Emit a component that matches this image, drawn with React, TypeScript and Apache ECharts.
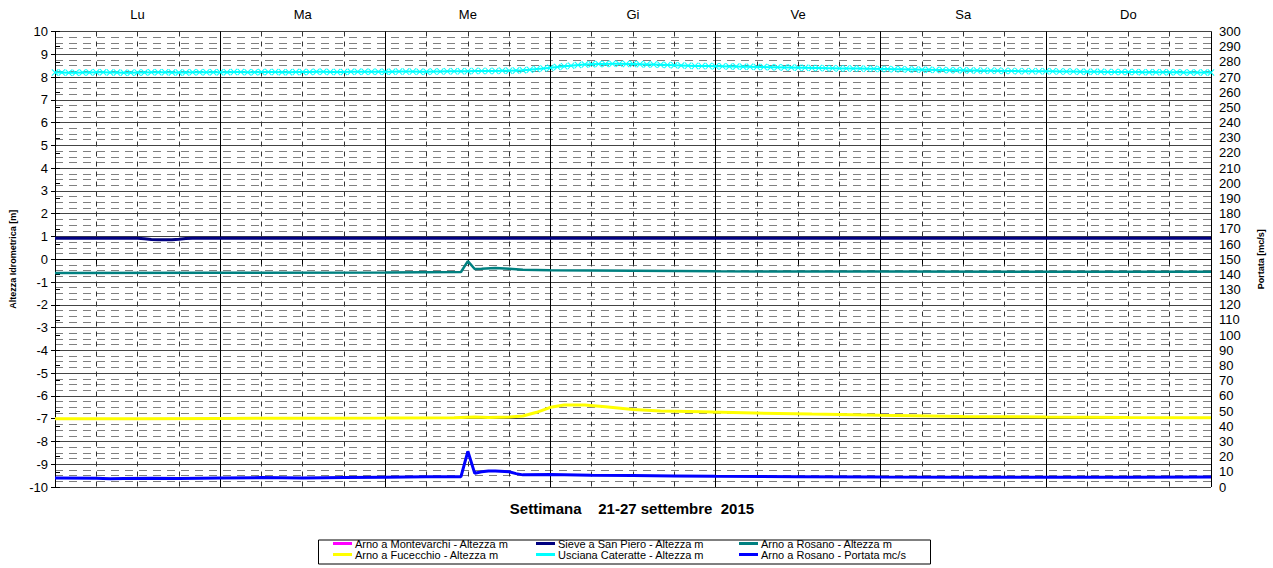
import React, { useEffect, useRef } from 'react';
import * as echarts from 'echarts';

const FONT = '"Liberation Sans", Arial, Helvetica, sans-serif';

const DAYS = ['Lu', 'Ma', 'Me', 'Gi', 'Ve', 'Sa', 'Do'];
const TITLE = 'Settimana\u00a0\u00a0\u00a0\u00a021-27 settembre\u00a0\u00a02015';
const LEFT_NAME = 'Altezza Idrometrica [m]';
const RIGHT_NAME = 'Portata [mc/s]';

const NAMES = [
  'Arno a Montevarchi - Altezza m',
  'Sieve a San Piero - Altezza m',
  'Arno a Rosano - Altezza m',
  'Arno a Fucecchio - Altezza m',
  'Usciana Cateratte - Altezza m',
  'Arno a Rosano - Portata mc/s',
];
const COLORS = ['#FF00FF', '#000080', '#008080', '#FFFF00', '#00FFFF', '#0000FF'];

// [hour since Mon 00:00, value]
const MONTEVARCHI: [number, number][] = [];

const SIEVE: [number, number][] = [
  [0, 0.92], [12, 0.92], [13, 0.9], [14, 0.87], [15, 0.86], [17, 0.86], [18, 0.88], [19, 0.91], [20, 0.92],
  [48, 0.92], [72, 0.92], [96, 0.92], [120, 0.92], [144, 0.92], [168, 0.92],
];

const ROSANO_H: [number, number][] = [
  [0, -0.6], [24, -0.59], [48, -0.58], [59, -0.56], [60, -0.08], [61, -0.43], [62, -0.42], [64, -0.38],
  [66, -0.42], [68, -0.46], [72, -0.48], [84, -0.5], [96, -0.53], [120, -0.54], [144, -0.55], [168, -0.55],
];

const FUCECCHIO: [number, number][] = [
  [0, -7.0], [12, -7.0], [24, -6.99], [36, -6.98], [48, -6.97], [58, -6.96], [61, -6.93], [63, -6.95],
  [66, -6.93], [68, -6.88], [70, -6.72], [72, -6.5], [74, -6.4], [77, -6.4], [80, -6.48], [84, -6.6],
  [88, -6.66], [94, -6.7], [100, -6.74], [110, -6.8], [120, -6.85], [132, -6.9], [144, -6.93],
  [156, -6.95], [168, -6.96],
];

// hourly values, hour 0 .. 168
const USCIANA: number[] = [
  8.20, 8.20, 8.19, 8.19, 8.20, 8.20, 8.21, 8.21, 8.20, 8.20, 8.19, 8.19, 8.20, 8.20, 8.21, 8.21, 8.21, 8.20, 8.20, 8.20, 8.21, 8.21, 8.21, 8.21,
  8.21, 8.21, 8.22, 8.22, 8.21, 8.21, 8.22, 8.22, 8.22, 8.21, 8.21, 8.22, 8.22, 8.22, 8.23, 8.23, 8.22, 8.22, 8.22, 8.23, 8.23, 8.23, 8.23, 8.23,
  8.23, 8.23, 8.24, 8.24, 8.24, 8.23, 8.23, 8.24, 8.24, 8.25, 8.25, 8.25, 8.26, 8.27, 8.27, 8.27, 8.27, 8.28, 8.28, 8.29, 8.30, 8.32, 8.35, 8.38,
  8.41, 8.44, 8.47, 8.50, 8.53, 8.55, 8.56, 8.57, 8.57, 8.58, 8.58, 8.57, 8.57, 8.56, 8.55, 8.55, 8.54, 8.53, 8.52, 8.51, 8.50, 8.49, 8.48, 8.48,
  8.47, 8.47, 8.46, 8.46, 8.45, 8.45, 8.44, 8.44, 8.43, 8.43, 8.42, 8.42, 8.41, 8.41, 8.40, 8.40, 8.39, 8.39, 8.38, 8.38, 8.37, 8.37, 8.36, 8.36,
  8.35, 8.35, 8.34, 8.34, 8.33, 8.33, 8.32, 8.32, 8.31, 8.31, 8.30, 8.30, 8.30, 8.29, 8.29, 8.28, 8.28, 8.28, 8.27, 8.27, 8.26, 8.26, 8.26, 8.25,
  8.25, 8.25, 8.24, 8.24, 8.24, 8.23, 8.23, 8.23, 8.23, 8.22, 8.22, 8.22, 8.22, 8.22, 8.21, 8.21, 8.21, 8.21, 8.21, 8.21, 8.20, 8.20, 8.20, 8.20, 8.20,
];

const ROSANO_Q: [number, number][] = [
  [0, 6.0], [6, 5.8], [8, 5.4], [10, 5.6], [14, 5.8], [18, 5.6], [24, 6.0], [30, 6.2], [36, 6.0], [42, 6.3],
  [48, 6.5], [54, 6.7], [59, 6.8], [60, 23.5], [61, 9.0], [62, 10.0], [63, 10.6], [64, 10.6], [66, 10.0],
  [67, 8.8], [68, 8.0], [72, 8.2], [78, 7.8], [84, 7.6], [90, 7.3], [96, 7.0], [108, 6.8], [120, 6.6],
  [132, 6.5], [144, 6.5], [156, 6.5], [168, 6.6],
];

const X_SYMBOL = 'path://M0,1L1,0L5,4L9,0L10,1L6,5L10,9L9,10L5,6L1,10L0,9L4,5Z';

function App() {
  const ref = useRef<HTMLDivElement>(null);

  useEffect(() => {
    if (!ref.current) return;
    const chart = echarts.init(ref.current, null, { renderer: 'svg' });

    const lineSeries = (idx: number, data: any[], yAxisIndex = 0, extra: any = {}) => ({
      name: NAMES[idx],
      type: 'line',
      data,
      xAxisIndex: 0,
      yAxisIndex,
      showSymbol: false,
      symbol: 'none',
      silent: true,
      color: COLORS[idx],
      lineStyle: { color: COLORS[idx], width: 2.5 },
      ...extra,
    });

    const legendCol = (left: number, a: number, b: number) => ({
      orient: 'vertical',
      left,
      top: 538,
      itemGap: 0,
      itemWidth: 19,
      itemHeight: 3,
      selectedMode: false,
      padding: 0,
      data: [
        { name: NAMES[a], icon: 'rect' },
        { name: NAMES[b], icon: 'rect' },
      ],
      textStyle: { fontSize: 11, lineHeight: 10, color: '#000', fontFamily: FONT, padding: [0, 0, 0, -2] },
    });

    chart.setOption({
      animation: false,
      backgroundColor: '#fff',
      textStyle: { fontFamily: FONT },
      grid: { left: 52, right: 56, top: 31.5, bottom: 81, containLabel: false },
      xAxis: [
        {
          type: 'value', min: 0, max: 168, interval: 6, position: 'bottom',
          axisLine: { show: true, lineStyle: { color: '#000', width: 1 } },
          axisTick: { show: true, length: 5, lineStyle: { color: '#000' } },
          axisLabel: { show: false },
          splitLine: { show: true, lineStyle: { color: '#333', width: 1, type: [5, 5] } },
        },
        {
          type: 'value', min: 0, max: 168, interval: 24, position: 'bottom',
          axisLine: { show: false }, axisTick: { show: false }, axisLabel: { show: false },
          splitLine: { show: true, lineStyle: { color: '#000', width: 1 } },
        },
        {
          type: 'value', min: 0, max: 168, interval: 12, position: 'top',
          axisLine: { show: false }, axisTick: { show: false },
          axisLabel: {
            show: true, fontSize: 13, color: '#000', fontFamily: FONT, margin: 11,
            formatter: (v: number) => (v % 24 === 12 ? DAYS[(v - 12) / 24] : ''),
          },
          splitLine: { show: false },
        },
      ],
      yAxis: [
        {
          type: 'value', min: -10, max: 10, interval: 1, position: 'left',
          name: LEFT_NAME, nameLocation: 'middle', nameGap: 38, nameRotate: 90,
          nameTextStyle: { fontSize: 9, fontWeight: 'bold', color: '#000', fontFamily: FONT },
          axisLine: { show: true, lineStyle: { color: '#000', width: 1 } },
          axisTick: { show: true, length: 4, lineStyle: { color: '#000' } },
          axisLabel: { fontSize: 13, color: '#000', margin: 7, fontFamily: FONT },
          splitLine: { show: true, lineStyle: { color: '#444', width: 1 } },
          minorTick: { show: false, splitNumber: 4 },
          minorSplitLine: { show: true, lineStyle: { color: '#808080', width: 1, type: [8, 6] } },
        },
        {
          type: 'value', min: 0, max: 300, interval: 10, position: 'right',
          name: RIGHT_NAME, nameLocation: 'middle', nameGap: 45, nameRotate: 90,
          nameTextStyle: { fontSize: 9, fontWeight: 'bold', color: '#000', fontFamily: FONT },
          axisLine: { show: true, lineStyle: { color: '#000', width: 1 } },
          axisTick: { show: true, length: 5, lineStyle: { color: '#000' } },
          axisLabel: { fontSize: 13, color: '#000', margin: 8, fontFamily: FONT },
          splitLine: { show: false },
        },
      ],
      legend: [legendCol(333, 0, 3), legendCol(536, 1, 4), legendCol(739, 2, 5)],
      series: [
        lineSeries(0, MONTEVARCHI),
        lineSeries(1, SIEVE, 0, { lineStyle: { color: COLORS[1], width: 3 } }),
        lineSeries(2, ROSANO_H),
        lineSeries(3, FUCECCHIO, 0, { lineStyle: { color: COLORS[3], width: 3 } }),
        lineSeries(5, ROSANO_Q, 1, { lineStyle: { color: COLORS[5], width: 3 } }),
        lineSeries(4, USCIANA.map((v, i) => [i, v]), 0, {
          showSymbol: true,
          symbol: X_SYMBOL,
          symbolSize: 7,
          itemStyle: { color: COLORS[4] },
          lineStyle: { color: COLORS[4], width: 2 },
          z: 5,
        }),
      ],
      graphic: [
        {
          type: 'rect', left: 316, top: 537.5, silent: true,
          shape: { width: 612, height: 24 },
          style: { fill: 'none', stroke: '#000', lineWidth: 1 },
        },
        {
          type: 'text', x: 632, y: 508, silent: true,
          style: {
            text: TITLE, fontSize: 15, fontWeight: 'bold', fill: '#000', fontFamily: FONT,
            align: 'center', verticalAlign: 'middle',
          },
        },
      ],
    });

    return () => chart.dispose();
  }, []);

  return (
    <div
      ref={ref}
      style={{ position: 'fixed', left: 0, top: 0, width: 1273, height: 568, background: '#fff' }}
    />
  );
}

export default App;
